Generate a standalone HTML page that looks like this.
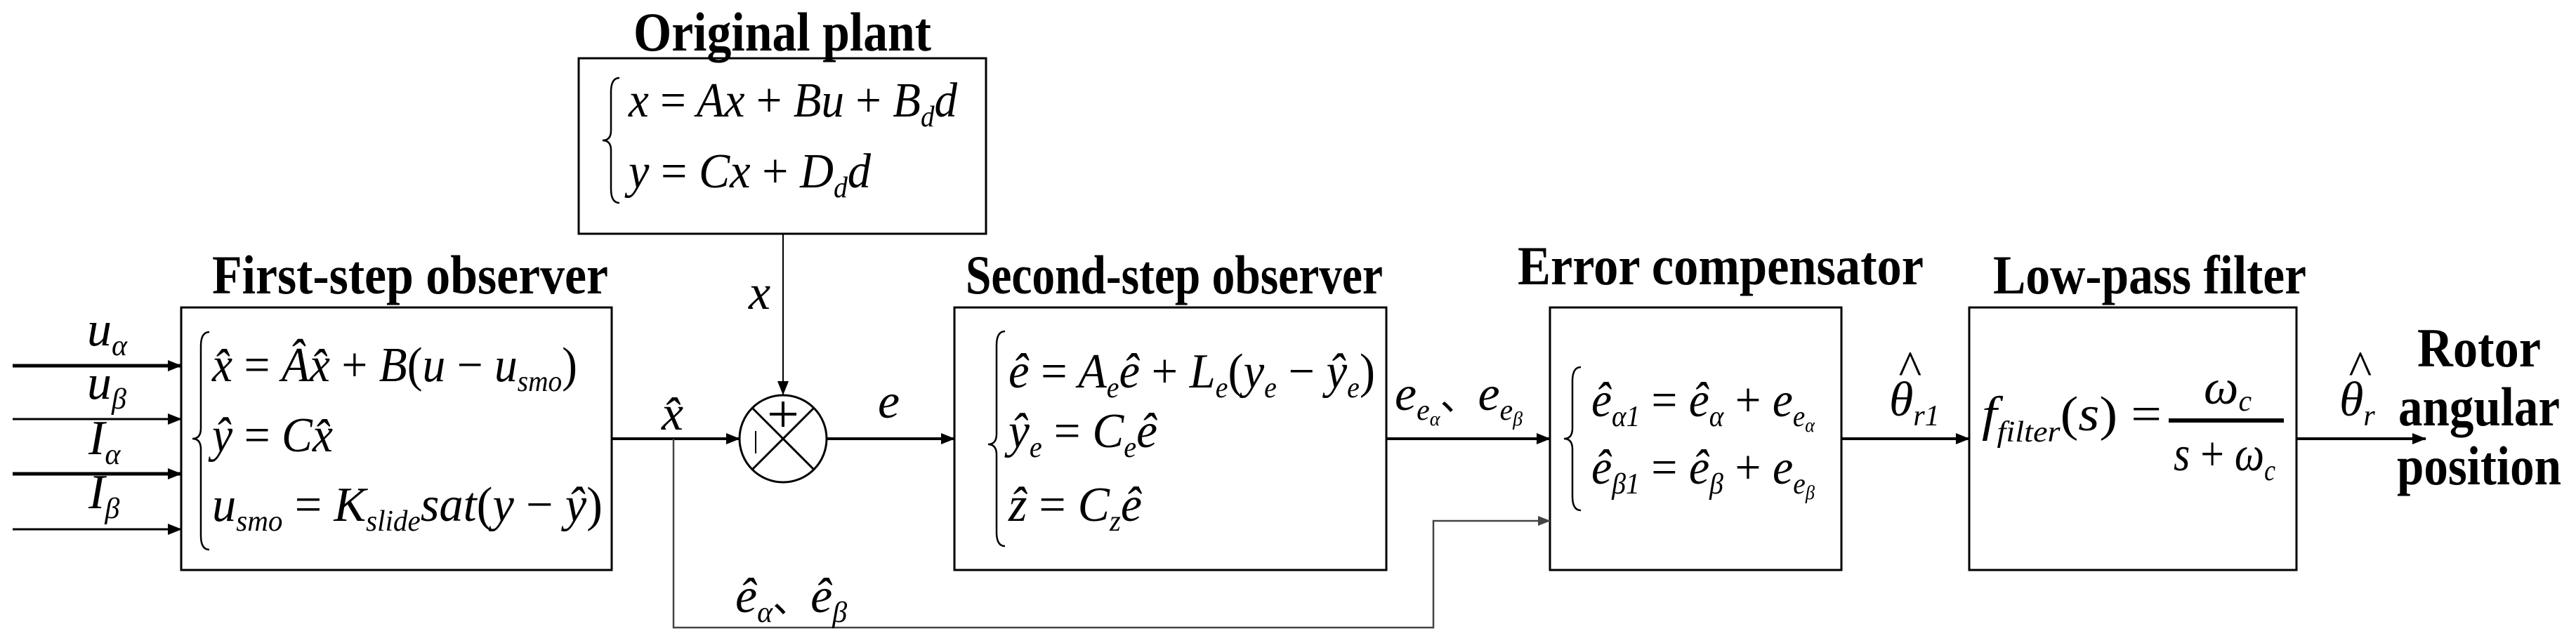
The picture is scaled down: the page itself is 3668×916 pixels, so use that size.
<!DOCTYPE html>
<html><head><meta charset="utf-8"><style>
html,body{margin:0;padding:0;background:#fff;}
svg{display:block;}
.t{font-family:"Liberation Serif","Times New Roman",serif;font-weight:bold;font-size:78px;}
.m{font-family:"Liberation Serif","Times New Roman",serif;font-style:italic;font-size:70px;}
.s{font-size:42px;}
</style></head><body>
<svg width="3668" height="916" viewBox="0 0 3668 916" xmlns="http://www.w3.org/2000/svg">
<defs>
<marker id="ar2" markerWidth="20" markerHeight="16" refX="19" refY="8" orient="auto" markerUnits="userSpaceOnUse">
<path d="M0,0 L20,8 L0,16 z" fill="#000"/></marker>
<marker id="arg" markerWidth="18" markerHeight="14" refX="17" refY="7" orient="auto" markerUnits="userSpaceOnUse">
<path d="M0,0 L18,7 L0,14 z" fill="#444"/></marker>
</defs>
<g fill="none" stroke="#000" stroke-width="3">
<rect x="824" y="83" width="580" height="250"/>
<rect x="258" y="438" width="613" height="374"/>
<rect x="1359" y="438" width="615" height="374"/>
<rect x="2207" y="438" width="415" height="374"/>
<rect x="2804" y="438" width="466" height="374"/>
</g>
<text class="t" x="1114" y="72" text-anchor="middle" textLength="424" lengthAdjust="spacingAndGlyphs">Original plant</text>
<text class="t" x="584" y="418" text-anchor="middle" textLength="564" lengthAdjust="spacingAndGlyphs">First-step observer</text>
<text class="t" x="1672" y="418" text-anchor="middle" textLength="594" lengthAdjust="spacingAndGlyphs">Second-step observer</text>
<text class="t" x="2450" y="405" text-anchor="middle" textLength="578" lengthAdjust="spacingAndGlyphs">Error compensator</text>
<text class="t" x="3061" y="418" text-anchor="middle" textLength="446" lengthAdjust="spacingAndGlyphs">Low-pass filter</text>
<text class="t" x="3530" y="522" text-anchor="middle" textLength="176" lengthAdjust="spacingAndGlyphs">Rotor</text>
<text class="t" x="3530" y="606" text-anchor="middle" textLength="230" lengthAdjust="spacingAndGlyphs">angular</text>
<text class="t" x="3530" y="690" text-anchor="middle" textLength="234" lengthAdjust="spacingAndGlyphs">position</text>
<g stroke="#000" stroke-width="5" marker-end="url(#ar2)">
<line x1="18" y1="521" x2="258" y2="521"/>
<line x1="18" y1="597" x2="258" y2="597" stroke-width="3"/>
<line x1="18" y1="675" x2="258" y2="675"/>
<line x1="18" y1="754" x2="258" y2="754" stroke-width="3"/>
</g>
<text class="m" x="124" y="492">u<tspan class="s" dy="14">α</tspan></text>
<text class="m" x="124" y="568">u<tspan class="s" dy="14">β</tspan></text>
<text class="m" x="126" y="647">I<tspan class="s" dy="14">α</tspan></text>
<text class="m" x="126" y="724">I<tspan class="s" dy="14">β</tspan></text>
<g fill="none" stroke="#000" stroke-width="2.5">
<path d="M298,473 Q286,473 286,493 L286,610 Q286,625 274,625 Q286,625 286,640 L286,763 Q286,783 298,783"/>
<path d="M882,111 Q870,111 870,131 L870,186 Q870,200 858,200 Q870,200 870,214 L870,269 Q870,289 882,289"/>
<path d="M1431,472 Q1419,472 1419,492 L1419,618 Q1419,633 1407,633 Q1419,633 1419,648 L1419,758 Q1419,778 1431,778"/>
<path d="M2251,523 Q2239,523 2239,543 L2239,610 Q2239,625 2227,625 Q2239,625 2239,640 L2239,707 Q2239,727 2251,727"/>
</g>
<text class="m" x="895" y="166" textLength="468" lengthAdjust="spacingAndGlyphs">x <tspan font-style="normal">=</tspan> Ax <tspan font-style="normal">+</tspan> Bu <tspan font-style="normal">+</tspan> B<tspan class="s" dy="14">d</tspan><tspan dy="-14">d</tspan></text>
<text class="m" x="895" y="267" textLength="345" lengthAdjust="spacingAndGlyphs">y <tspan font-style="normal">=</tspan> Cx <tspan font-style="normal">+</tspan> D<tspan class="s" dy="14">d</tspan><tspan dy="-14">d</tspan></text>
<text class="m" x="302" y="543" textLength="520" lengthAdjust="spacingAndGlyphs">x̂ <tspan font-style="normal">=</tspan> Âx̂ <tspan font-style="normal">+</tspan> B<tspan font-style="normal">(</tspan>u <tspan font-style="normal">−</tspan> u<tspan class="s" dy="14">smo</tspan><tspan font-style="normal" dy="-14">)</tspan></text>
<text class="m" x="302" y="643" textLength="172" lengthAdjust="spacingAndGlyphs">ŷ <tspan font-style="normal">=</tspan> Cx̂</text>
<text class="m" x="302" y="742" textLength="556" lengthAdjust="spacingAndGlyphs">u<tspan class="s" dy="14">smo</tspan><tspan dy="-14"> </tspan><tspan font-style="normal">=</tspan> K<tspan class="s" dy="14">slide</tspan><tspan dy="-14">sat</tspan><tspan font-style="normal">(</tspan>y <tspan font-style="normal">−</tspan> ŷ<tspan font-style="normal">)</tspan></text>
<text class="m" x="1436" y="552" textLength="522" lengthAdjust="spacingAndGlyphs">ê <tspan font-style="normal">=</tspan> A<tspan class="s" dy="14">e</tspan><tspan dy="-14">ê</tspan> <tspan font-style="normal">+</tspan> L<tspan class="s" dy="14">e</tspan><tspan font-style="normal" dy="-14">(</tspan>y<tspan class="s" dy="14">e</tspan><tspan dy="-14"> </tspan><tspan font-style="normal">−</tspan> ŷ<tspan class="s" dy="14">e</tspan><tspan font-style="normal" dy="-14">)</tspan></text>
<text class="m" x="1436" y="637" textLength="212" lengthAdjust="spacingAndGlyphs">ŷ<tspan class="s" dy="14">e</tspan><tspan dy="-14"> </tspan><tspan font-style="normal">=</tspan> C<tspan class="s" dy="14">e</tspan><tspan dy="-14">ê</tspan></text>
<text class="m" x="1436" y="742" textLength="190" lengthAdjust="spacingAndGlyphs">ẑ <tspan font-style="normal">=</tspan> C<tspan class="s" dy="14">z</tspan><tspan dy="-14">ê</tspan></text>
<text class="m" x="2266" y="593" textLength="318" lengthAdjust="spacingAndGlyphs">ê<tspan class="s" dy="14">α1</tspan><tspan dy="-14"> </tspan><tspan font-style="normal">=</tspan> ê<tspan class="s" dy="14">α</tspan><tspan dy="-14"> </tspan><tspan font-style="normal">+</tspan> e<tspan class="s" dy="14">e</tspan><tspan font-size="28" dy="8">α</tspan></text>
<text class="m" x="2266" y="689" textLength="318" lengthAdjust="spacingAndGlyphs">ê<tspan class="s" dy="14">β1</tspan><tspan dy="-14"> </tspan><tspan font-style="normal">=</tspan> ê<tspan class="s" dy="14">β</tspan><tspan dy="-14"> </tspan><tspan font-style="normal">+</tspan> e<tspan class="s" dy="14">e</tspan><tspan font-size="28" dy="8">β</tspan></text>
<text class="m" x="2822" y="613" textLength="256" lengthAdjust="spacingAndGlyphs">f<tspan class="s" dy="16">filter</tspan><tspan font-style="normal" dy="-16">(</tspan>s<tspan font-style="normal">) =</tspan></text>
<line x1="3088" y1="599" x2="3252" y2="599" stroke="#000" stroke-width="6"/>
<text class="m" x="3138" y="575">ω<tspan class="s" dy="10">c</tspan></text>
<text class="m" x="3095" y="670" textLength="145" lengthAdjust="spacingAndGlyphs">s <tspan font-style="normal">+</tspan> ω<tspan class="s" dy="14">c</tspan></text>
<g stroke="#000" stroke-width="4" fill="none">
<line x1="871" y1="625" x2="1053" y2="625" marker-end="url(#ar2)"/>
<line x1="1176" y1="625" x2="1359" y2="625" marker-end="url(#ar2)"/>
<line x1="1974" y1="625" x2="2207" y2="625" marker-end="url(#ar2)"/>
<line x1="2622" y1="625" x2="2804" y2="625" marker-end="url(#ar2)"/>
<line x1="3270" y1="625" x2="3454" y2="625" marker-end="url(#ar2)"/>
<line x1="1115" y1="333" x2="1115" y2="562" stroke-width="2" marker-end="url(#ar2)"/>
</g>
<polyline points="959,625 959,894 2041,894 2041,742 2207,742" fill="none" stroke="#444" stroke-width="2.5" marker-end="url(#arg)"/>
<g stroke="#000" stroke-width="3" fill="none">
<circle cx="1115" cy="625" r="62"/>
<line x1="1071" y1="581" x2="1159" y2="669"/>
<line x1="1159" y1="581" x2="1071" y2="669"/>
<line x1="1096" y1="590" x2="1134" y2="590" stroke-width="4"/>
<line x1="1115" y1="572" x2="1115" y2="608" stroke-width="4"/>
<line x1="1076" y1="614" x2="1076" y2="646" stroke-width="2"/>
</g>
<text class="m" x="1066" y="440">x</text>
<text class="m" x="942" y="612">x̂</text>
<text class="m" x="1250" y="595">e</text>
<text class="m" x="1047" y="872">ê<tspan class="s" dy="14">α</tspan><tspan font-style="normal" dy="-14" font-family="Noto Sans CJK SC" font-size="54">、</tspan>ê<tspan class="s" dy="14">β</tspan></text>
<text class="m" x="1986" y="584">e<tspan class="s" dy="14">e</tspan><tspan font-size="28" dy="8">α</tspan><tspan font-style="normal" dy="-22" font-family="Noto Sans CJK SC" font-size="54">、</tspan>e<tspan class="s" dy="14">e</tspan><tspan font-size="28" dy="8">β</tspan></text>
<text class="m" x="2690" y="592">θ<tspan class="s" dy="14">r1</tspan></text>
<text class="m" x="2702" y="548" font-style="normal" font-size="40">^</text>
<text class="m" x="3331" y="592">θ<tspan class="s" dy="14">r</tspan></text>
<text class="m" x="3343" y="548" font-style="normal" font-size="40">^</text>
</svg>
</body></html>
